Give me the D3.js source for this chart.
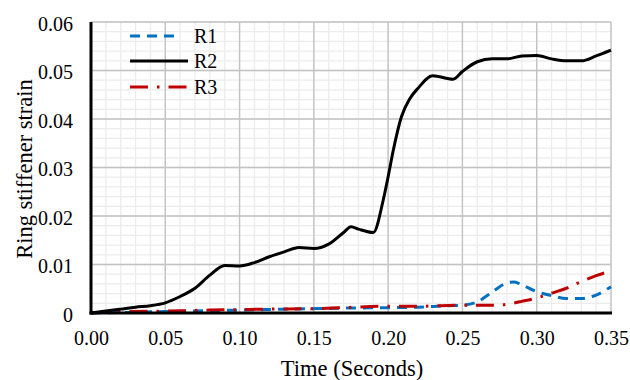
<!DOCTYPE html>
<html><head><meta charset="utf-8">
<script src="https://cdn.jsdelivr.net/npm/d3@7"></script>
<style>
html,body{margin:0;padding:0;background:#fff;}
svg{display:block;}
text{font-family:"Liberation Serif","Times New Roman",serif;fill:#000;}
</style></head>
<body><svg id="chart" width="630" height="380"></svg>
<script>
// ---- data ----
const xTicks = [0, 0.05, 0.10, 0.15, 0.20, 0.25, 0.30, 0.35];
const yTicks = [0, 0.01, 0.02, 0.03, 0.04, 0.05, 0.06];
const seriesNames = ["R1", "R2", "R3"];

const r1Time = [0,0.02,0.05,0.10,0.15,0.17,0.20,0.22,0.24,0.25,0.26,0.27,0.28,0.285,0.29,0.30,0.31,0.32,0.33,0.34,0.35];
const r1Strain = [0,0.0001,0.0003,0.0006,0.0009,0.0010,0.0011,0.0012,0.0015,0.0016,0.0023,0.0043,0.0062,0.0064,0.0058,0.0044,0.0036,0.0030,0.0030,0.0037,0.0054];

const r2Time = [0,0.01,0.02,0.03,0.04,0.05,0.06,0.07,0.08,0.09,0.10,0.11,0.12,0.13,0.14,0.15,0.16,0.17,0.175,0.18,0.19,0.1967,0.20,0.2035,0.209,0.2148,0.22,0.23,0.2437,0.25,0.26,0.27,0.28,0.29,0.30,0.31,0.32,0.33,0.34,0.35];
const r2Strain = [0,0.0004,0.0008,0.0012,0.0015,0.0021,0.0034,0.0051,0.0078,0.0098,0.0097,0.0104,0.0116,0.0126,0.0135,0.0133,0.0142,0.0166,0.0178,0.0173,0.0166,0.0233,0.0281,0.0336,0.0405,0.0443,0.0463,0.0489,0.0482,0.0498,0.0518,0.0524,0.0524,0.0530,0.0531,0.0524,0.0520,0.0520,0.0530,0.0542];

const r3Time = [0,0.01,0.02,0.05,0.08,0.10,0.12,0.15,0.17,0.20,0.22,0.25,0.27,0.28,0.29,0.30,0.31,0.32,0.33,0.34,0.35];
const r3Strain = [0,0.0002,0.0003,0.0004,0.0006,0.0007,0.0008,0.0009,0.0011,0.0014,0.0014,0.0016,0.0016,0.0018,0.0024,0.0031,0.0041,0.0051,0.0065,0.0077,0.0087];

// ---- layout ----
const svg = d3.select("#chart");
const pL = 91, pR = 611, pT = 22, pB = 313;
const x = d3.scaleLinear().domain([0, 0.35]).range([pL, pR]);
const y = d3.scaleLinear().domain([0, 0.06]).range([pB, pT]);

// minor grid
const xMinor = d3.range(0, 0.3501, 0.01).map(v => +v.toFixed(3));
const yMinor = d3.range(0, 0.06001, 0.002).map(v => +v.toFixed(4));
const g = svg.append("g");
g.selectAll(".mx").data(xMinor).enter().append("line")
  .attr("x1", d => x(d)).attr("x2", d => x(d)).attr("y1", pT).attr("y2", pB)
  .attr("stroke", "#ececec").attr("stroke-width", 1.3);
g.selectAll(".my").data(yMinor).enter().append("line")
  .attr("x1", pL).attr("x2", pR).attr("y1", d => y(d)).attr("y2", d => y(d))
  .attr("stroke", "#ececec").attr("stroke-width", 1.3);
// major grid
g.selectAll(".Mx").data(xTicks).enter().append("line")
  .attr("x1", d => x(d)).attr("x2", d => x(d)).attr("y1", pT).attr("y2", pB)
  .attr("stroke", "#c3c3c3").attr("stroke-width", 1.4);
g.selectAll(".My").data(yTicks).enter().append("line")
  .attr("x1", pL).attr("x2", pR).attr("y1", d => y(d)).attr("y2", d => y(d))
  .attr("stroke", "#c3c3c3").attr("stroke-width", 1.4);

// axes (labels via d3 axes)
const xAxis = svg.append("g").attr("transform", `translate(0,${pB})`)
  .call(d3.axisBottom(x).tickValues(xTicks).tickFormat(d3.format(".2f")).tickSize(0).tickPadding(18));
const yAxis = svg.append("g").attr("transform", `translate(${pL},0)`)
  .call(d3.axisLeft(y).tickValues(yTicks).tickFormat(d => d === 0 ? "0" : d3.format(".2f")(d)).tickSize(0).tickPadding(18));
[xAxis, yAxis].forEach(a => {
  a.select(".domain").remove();
  a.selectAll("text").style("font-size", "20px").style("font-family", "Liberation Serif, serif").attr("fill", "#000");
});
yAxis.selectAll("text").attr("dy", "0.42em");

// series lines
const line = d3.line().x(d => x(d[0])).y(d => y(d[1])).curve(d3.curveMonotoneX);
const series = [
  {name: seriesNames[0], pts: d3.zip(r1Time, r1Strain), color: "#0070c0", dash: "10,7"},
  {name: seriesNames[1], pts: d3.zip(r2Time, r2Strain), color: "#000000", dash: null},
  {name: seriesNames[2], pts: d3.zip(r3Time, r3Strain), color: "#c00000", dash: "18,9,2.5,9"}
];
const order = [0, 2, 1];
order.forEach(i => {
  const s = series[i];
  svg.append("path").attr("d", line(s.pts)).attr("fill", "none")
    .attr("stroke", s.color).attr("stroke-width", 3)
    .attr("stroke-dasharray", s.dash).attr("stroke-linejoin", "round");
});

// axis lines
svg.append("line").attr("x1", pL).attr("x2", pL).attr("y1", pT).attr("y2", pB + 1.5)
  .attr("stroke", "#000").attr("stroke-width", 3);
svg.append("line").attr("x1", pL - 1.5).attr("x2", pR + 1).attr("y1", pB).attr("y2", pB)
  .attr("stroke", "#000").attr("stroke-width", 3);

// legend
const legY = [36, 61, 87];
series.forEach((s, i) => {
  svg.append("line").attr("x1", 130).attr("x2", i === 0 ? 178 : 188)
    .attr("y1", legY[i]).attr("y2", legY[i])
    .attr("stroke", s.color).attr("stroke-width", 3).attr("stroke-dasharray", s.dash);
  svg.append("text").attr("x", 194).attr("y", legY[i]).attr("dy", "0.35em")
    .style("font-size", "20px").text(s.name);
});

// axis titles
svg.append("text").attr("x", 352).attr("y", 376).attr("text-anchor", "middle")
  .style("font-size", "22.5px").text("Time (Seconds)");
svg.append("text").attr("transform", `translate(32,169) rotate(-90)`)
  .attr("text-anchor", "middle").style("font-size", "22.5px").text("Ring stiffener strain");
</script></body></html>
